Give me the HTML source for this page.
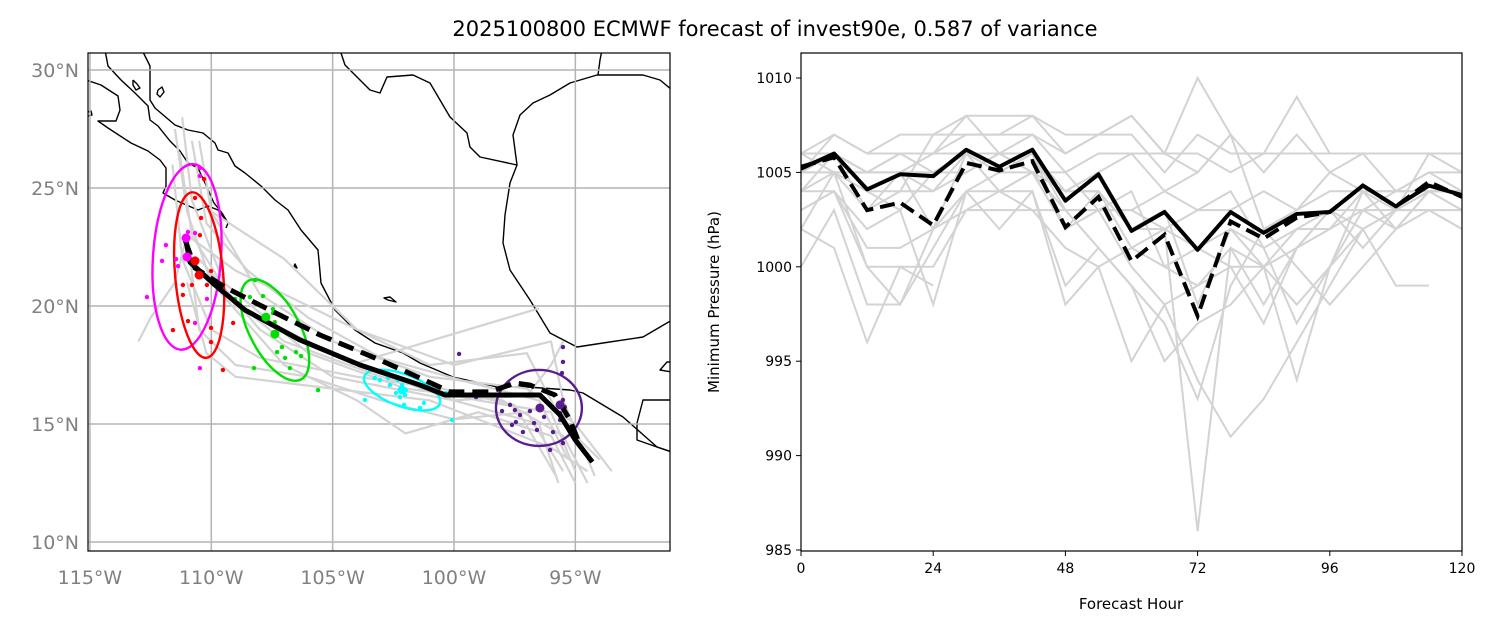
<!DOCTYPE html>
<html><head><meta charset="utf-8">
<style>
html,body{margin:0;padding:0;background:#fff;}
body{width:1496px;height:630px;overflow:hidden;font-family:"Liberation Sans","DejaVu Sans",sans-serif;}
svg text{font-family:"DejaVu Sans","Liberation Sans",sans-serif;}
</style></head>
<body>
<svg id="fig" width="1496" height="630" viewBox="0 0 1496 630" xmlns="http://www.w3.org/2000/svg">
<text x="775" y="36" text-anchor="middle" font-size="21" fill="#000">2025100800 ECMWF forecast of invest90e, 0.587 of variance</text>
<defs><clipPath id="mapclip"><rect x="88" y="53" width="582" height="498"/></clipPath>
<clipPath id="pclip"><rect x="801" y="53" width="661" height="498"/></clipPath></defs>
<g id="map"></g>
<g id="pchart"></g>
</svg>
<script>
// ---------- MAP DATA ----------
const lonTicks=[-115,-110,-105,-100,-95];
const latTicks=[10,15,20,25,30];
const meanTrackLon=[-111.08,-110.88,-109.85,-108.61,-106.35,-103.87,-101.4,-100.37,-98.1,-96.46,-95.63,-95.0,-94.3];
const meanTrackLat=[23.0,21.86,20.89,19.83,18.56,17.5,16.65,16.23,16.23,16.23,15.38,14.32,13.39];
const detTrackLon=[-111.08,-110.67,-109.44,-108.0,-105.52,-103.05,-101.4,-100.16,-98.52,-97.49,-96.87,-95.84,-95.22,-94.81];
const detTrackLat=[22.8,21.61,20.8,20.04,18.77,17.71,16.95,16.36,16.36,16.74,16.65,16.23,15.17,14.11];
const ensTracks=[
[[-111.5,27.5],[-111,24],[-110,21],[-107,18.5],[-103,17],[-99,16],[-96,15.5],[-95,13]],
[[-111.2,28],[-110.8,24.5],[-109.5,21],[-106,18],[-102,16.5],[-98,16],[-95.5,14.5],[-94.5,12.5]],
[[-110.5,27],[-110,24],[-108,20.5],[-105,18.5],[-101,17],[-97,16.5],[-95,15],[-93.5,13]],
[[-111,23],[-111.5,21],[-112.5,19.5],[-113,18.5]],
[[-111,23],[-110.5,19],[-109,17.5],[-106,17],[-103,16],[-100,15.2],[-97,15.5],[-95.5,13]],
[[-110,21],[-107,17.5],[-104,16],[-102,14.6],[-99,15.5],[-96,14.5],[-95,12.5]],
[[-111,23],[-109,21.5],[-105,19.5],[-101,17.5],[-97,18],[-95.5,15],[-94,13.5]],
[[-111.3,26.5],[-110.8,23],[-109,20],[-104,17.5],[-100,16],[-96.5,15],[-95.7,12.5]],
[[-110,24],[-107,22],[-104,19],[-100,17.5],[-96,18.5],[-95.5,16],[-94.2,12.8]],
[[-110.5,22],[-108,19],[-105,17],[-100,16],[-97,16.2],[-96,17.5],[-95.5,18.5]],
[[-111,21],[-110.2,18],[-109,17],[-105,16.5],[-101,16],[-98,14.8],[-96,14],[-94.5,13]],
[[-104.3,17.5],[-96.5,19.9]],
[[-110.8,27],[-110.2,23.5],[-108.5,21.5],[-106,19.5],[-103,17.8],[-99.5,16.8],[-96.5,16],[-95.3,13.5]],
[[-111.6,26],[-111.2,22],[-110,19],[-108,17.8],[-104,17],[-100.5,16.5],[-97.5,15.8],[-95.8,12.8]]
];
const magentaLon=[-110.47,-110.47,-111.87,-112.03,-111.45,-111.37,-112.65,-110.67,-110.96,-110.18,-110.67,-110.47];
const magentaLat=[25.85,25.51,22.58,21.91,21.99,21.69,20.38,23.09,23.14,20.3,19.28,17.37];
const redLon=[-110.3,-110.67,-110.42,-110.47,-110.01,-111.17,-110.8,-111.17,-110.18,-110.96,-111.58,-110.01,-110.01,-109.52,-109.1];
const redLat=[25.38,24.58,23.73,23.0,21.48,20.89,20.89,20.47,20.89,19.36,18.98,19.07,18.47,17.29,19.28];
const greenLon=[-108.2,-108.41,-107.87,-109.02,-107.46,-107.46,-107.38,-107.09,-107.29,-106.96,-106.51,-106.3,-106.76,-108.24,-105.6];
const greenLat=[21.1,20.38,20.42,20.3,19.87,19.7,19.32,18.26,18.05,17.8,18.05,17.88,17.37,17.37,16.44];
const cyanLon=[-103.34,-103.26,-103.05,-102.64,-102.31,-102.14,-101.98,-102.23,-102.06,-101.4,-101.24,-102.02,-102.39,-103.67,-100.08,-100.33,-102.72];
const cyanLat=[17.8,16.95,16.86,16.65,16.86,16.65,16.44,16.14,15.81,15.68,15.89,16.23,16.31,16.02,15.17,16.31,16.95];
const purpleLon=[-99.79,-99.09,-98.02,-97.69,-97.49,-97.28,-97.61,-97.45,-96.87,-96.7,-96.29,-95.63,-95.63,-95.43,-95.51,-95.55,-95.51,-95.51,-97.16,-96.58,-95.92,-95.51,-96.04];
const purpleLat=[17.97,16.14,15.55,15.81,15.59,15.38,14.96,15.08,15.55,15.04,15.3,15.47,15.17,15.72,16.02,17.16,17.63,18.26,14.66,14.75,14.66,14.19,13.9];
const bigDotLon=[-111.04,-111.0,-110.67,-110.5,-107.75,-107.38,-102.14,-96.46,-95.63];
const bigDotLat=[22.88,22.08,21.91,21.31,19.53,18.81,16.44,15.68,15.81];
const bigDotColor=['#ff00ff','#ff00ff','#ff0000','#ff0000','#00e000','#00e000','#00ffff','#5a1e8c','#5a1e8c'];
// ellipses: centre lon, lat, semi-axes (deg), rotation
const ellLon=[-111.0,-110.5,-107.38,-102.14,-96.5];
const ellLat=[22.08,21.31,18.98,16.44,15.68];
const ellRx=[1.4,0.99,1.03,1.65,1.77];
const ellRy=[3.94,3.52,2.37,0.68,1.61];
const ellRot=[4,-5,-28,20,0];
const ellColor=['#ff00ff','#ff0000','#00e000','#00ffff','#5a1e8c'];

// ---------- PRESSURE DATA ----------
const hours=[0,6,12,18,24,30,36,42,48,54,60,66,72,78,84,90,96,102,108,114,120];
const xTicks=[0,24,48,72,96,120];
const yTicks=[985,990,995,1000,1005,1010];
const meanPres=[1005.2,1006,1004.1,1004.9,1004.8,1006.2,1005.3,1006.2,1003.5,1004.9,1001.9,1002.9,1000.9,1002.9,1001.8,1002.8,1002.9,1004.3,1003.2,1004.3,1003.8];
const detPres=[1005.3,1005.8,1003,1003.4,1002.2,1005.5,1005.1,1005.6,1002.1,1003.7,1000.3,1001.7,997.4,1002.4,1001.5,1002.6,1002.9,1004.3,1003.2,1004.5,1003.7];
const ensPres=[
[1006,1007,1006,1007,1007,1007,1007,1007,1006,1007,1007,1005,1007,1006,1006,1006,1006,1006,1006,1006,1006],
[1005,1006,1005,1006,1006,1008,1006,1007,1005,1006,1006,1006,1006,1005,1006,1009,1006,1006,1006,1006,1006],
[1004,1006,1003,1004,1004,1006,1005,1006,1002,1003,1003,1004,1003,1003,1004,1003,1004,1004,1004,1004,1004],
[1003,1004,1000,1000,1000,1003,1004,1004,998,1000,995,998,999,1001,998,1001,1002,1003,1003,1003,1002],
[1000,1003,998,998,1001,1004,1004,1003,1003,1003,1000,998,994,991,993,996,999,1002,1003,1004,1003],
[1002,1001,996,1000,999,null,null,null,null,null,null,null,null,null,null,null,null,null,null,null,null],
[1005,1007,1006,1006,1006,1007,1007,1008,1006,1007,1008,1006,1010,1007,null,null,null,null,null,null,null],
[1006,1006,1004,1004,1007,1008,1008,1008,1007,1007,1008,1006,1005,1007,1005,1007,1005,1004,1004,1005,1005],
[1005,1005,1003,1005,1002,1006,1004,1005,1002,1004,1001,1002,986,1001,1000,998,1000,1002,1003,1004,1004],
[1004,1004,1002,1003,998,1004,1005,1005,1003,1001,999,997,993,999,1002,1003,1005,1006,1004,1005,1004],
[1005,1006,1005,1005,1004,1005,1006,1005,1004,1004,1002,1003,998,1002,1001,997,1000,1004,1003,1006,1005],
[1006,1005,1004,1003,1005,1005,1006,1006,1003,1003,1004,1000,1001,1002,1000,1002,1003,1002,999,999,null],
[1004,1005,1005,1006,1005,1006,1006,1005,1005,1003,1003,1002,1003,1004,1001,1002,1002,1004,1002,1003,1002],
[1005,1006,1005,1005,1005,1006,1005,1006,1004,1005,1006,1004,1005,1007,1002,1000,998,1000,1002,1004,1004],
[1005,1005,1005,1005,1006,1006,1004,1005,1004,1004,1002,1002,1001,1000,1000,1001,1003,1001,1003,1003,1003],
[1003,1004,1001,1001,1002,1003,1003,1003,1001,1000,1001,1000,999,1000,997,1001,1003,1003,1004,1004,1004],
[1002,1005,1000,998,1002,1004,1002,1004,999,1001,999,995,997,998,1000,994,1000,1003,1002,1004,1003]
];

const NS='http://www.w3.org/2000/svg';
function mk(tag,attrs,parent){const e=document.createElementNS(NS,tag);for(const k in attrs)e.setAttribute(k,attrs[k]);parent.appendChild(e);return e;}

// ---------- MAP ----------
const map=document.getElementById('map');
const X0=88,X1=670,Y0=53,Y1=551;
function lonX(lon){return 88+(lon+115.08)*24.27;}
function latY(lat){return 542-(lat-10)*23.6;}
const mapBg=mk('rect',{x:X0,y:Y0,width:X1-X0,height:Y1-Y0,fill:'#fff'},map);


const mc=mk('g',{'clip-path':'url(#mapclip)'},map);
// coastlines (geographic outline, pixel polylines)
const coast=[
"86,80 101,85 118,96 120,110 116,121 98,121 108,128 131,143 148,151 160,160 166,168 166,186 163,193 175,200 198,210 208,206 218,210 228,223 226,228",
"105,50 108,66 121,80 135,93 148,106 150,120 158,126 170,141 180,151 188,163 198,168 205,183 214,203 222,213 228,223",
"142,50 150,66 150,100 155,108 175,125 188,130 203,133 215,143 218,150 228,153 235,166 245,173 261,186 275,200 288,210 301,230 318,250 321,283 335,310 355,330 375,343 403,353 420,363 453,377 480,383 497,387 527,387 570,390 583,393 623,417 657,447 672,452",
"340,50 345,65 360,80 370,90 380,93 387,77 413,75 430,83 450,117 467,133 470,147 480,157 517,165 513,135 520,115 533,103 550,95 570,83 597,75 643,75 660,80 672,90",
"517,165 510,183 505,215 503,243 510,270 530,300 550,333 577,347 603,343 643,337 672,320",
"672,372 660,370 667,362 672,362",
"672,400 643,400 637,423 637,440 657,447 672,452",
"602,50 600,60 598,75",
"88,112 91,111 92,115 88,116",
"133,80 137,84 140,88 136,90 133,85 133,80",
"158,90 162,87 164,92 160,97 157,94 158,90",
"388,300 396,302 390,297 384,298 388,300",
"294,266 297,268 295,264 294,266"
];
coast.forEach((p,i)=>{const c=mk('polyline',{points:p,fill:'none',stroke:'#000','stroke-width':1.4,'stroke-linejoin':'round'},mc);

});
// gridlines
lonTicks.forEach(v=>{const l=mk('line',{x1:lonX(v),x2:lonX(v),y1:Y0,y2:Y1,stroke:'#b4b4b4','stroke-width':1.5},mc);


const t=mk('text',{x:lonX(v),y:584,'text-anchor':'middle','font-size':19,fill:'#808080'},map);t.textContent=Math.abs(v)+'°W';

});
latTicks.forEach(v=>{const l=mk('line',{x1:X0,x2:X1,y1:latY(v),y2:latY(v),stroke:'#b4b4b4','stroke-width':1.5},mc);


const t=mk('text',{x:79,y:latY(v)+7,'text-anchor':'end','font-size':19,fill:'#808080'},map);t.textContent=v+'°N';

});
// ensemble tracks
ensTracks.forEach(tr=>{const pl=mk('polyline',{points:tr.map(p=>lonX(p[0])+','+latY(p[1])).join(' '),fill:'none',stroke:'#d3d3d3','stroke-width':2.2,'stroke-linejoin':'round'},mc);

});
// ellipses
ellLon.forEach((lo,i)=>{const cx=lonX(lo),cy=latY(ellLat[i]);
const e=mk('ellipse',{cx:cx,cy:cy,rx:ellRx[i]*24.27,ry:ellRy[i]*23.6,transform:'rotate('+ellRot[i]+' '+cx+' '+cy+')',fill:'none',stroke:ellColor[i],'stroke-width':2.4},mc);

});
// dots
function dots(lons,lats,col,name){lons.forEach((lo,i)=>{const c=mk('circle',{cx:lonX(lo),cy:latY(lats[i]),r:2.2,fill:col},mc);

});}
dots(magentaLon,magentaLat,'#ff00ff','member-position-magenta');
dots(redLon,redLat,'#ff0000','member-position-red');
dots(greenLon,greenLat,'#00e000','member-position-green');
dots(cyanLon,cyanLat,'#00ffff','member-position-cyan');
dots(purpleLon,purpleLat,'#5a1e8c','member-position-purple');
// tracks
const dt=mk('polyline',{points:detTrackLon.map((lo,i)=>lonX(lo)+','+latY(detTrackLat[i])).join(' '),fill:'none',stroke:'#000','stroke-width':5,'stroke-dasharray':'16,8'},mc);


const mt=mk('polyline',{points:meanTrackLon.map((lo,i)=>lonX(lo)+','+latY(meanTrackLat[i])).join(' '),fill:'none',stroke:'#000','stroke-width':5,'stroke-linejoin':'round'},mc);


bigDotLon.forEach((lo,i)=>{const c=mk('circle',{cx:lonX(lo),cy:latY(bigDotLat[i]),r:4.5,fill:bigDotColor[i]},mc);

});
const mf=mk('rect',{x:X0,y:Y0,width:X1-X0,height:Y1-Y0,fill:'none',stroke:'#000','stroke-width':1.2},map);



// ---------- PRESSURE CHART ----------
const pc=document.getElementById('pchart');
const PX0=801,PX1=1462,PY0=53,PY1=551;
function hx(h){return PX0+(h/120)*(PX1-PX0);}
function py(p){return 550-(p-985)*18.88;}
const pcl=mk('g',{'clip-path':'url(#pclip)'},pc);
function path(vals){let d='',pen=false;vals.forEach((v,i)=>{if(v===null){pen=false;return;}d+=(pen?'L':'M')+hx(hours[i])+','+py(v)+' ';pen=true;});return d;}
ensPres.forEach(s=>{const p=mk('path',{d:path(s),fill:'none',stroke:'#d3d3d3','stroke-width':2,'stroke-linejoin':'miter'},pcl);

});
const dp=mk('path',{d:path(detPres),fill:'none',stroke:'#000','stroke-width':4,'stroke-dasharray':'15,7'},pcl);


const mp=mk('path',{d:path(meanPres),fill:'none',stroke:'#000','stroke-width':4,'stroke-linejoin':'round'},pcl);


const pf=mk('rect',{x:PX0,y:PY0,width:PX1-PX0,height:PY1-PY0,fill:'none',stroke:'#000','stroke-width':1.2},pc);


xTicks.forEach(v=>{const l=mk('line',{x1:hx(v),x2:hx(v),y1:PY1,y2:PY1+5,stroke:'#000','stroke-width':1},pc);


const t=mk('text',{x:hx(v),y:PY1+22,'text-anchor':'middle','font-size':14,fill:'#000'},pc);t.textContent=v;

});
yTicks.forEach(v=>{const l=mk('line',{x1:PX0-5,x2:PX0,y1:py(v),y2:py(v),stroke:'#000','stroke-width':1},pc);


const t=mk('text',{x:PX0-9,y:py(v)+5,'text-anchor':'end','font-size':14,fill:'#000'},pc);t.textContent=v;

});
const xl=mk('text',{x:1131,y:609,'text-anchor':'middle','font-size':15,fill:'#000'},pc);xl.textContent='Forecast Hour';


const yl=mk('text',{x:0,y:0,'text-anchor':'middle','font-size':15,fill:'#000',transform:'translate(719,302) rotate(-90)'},pc);yl.textContent='Minimum Pressure (hPa)';


</script>
</body></html>
